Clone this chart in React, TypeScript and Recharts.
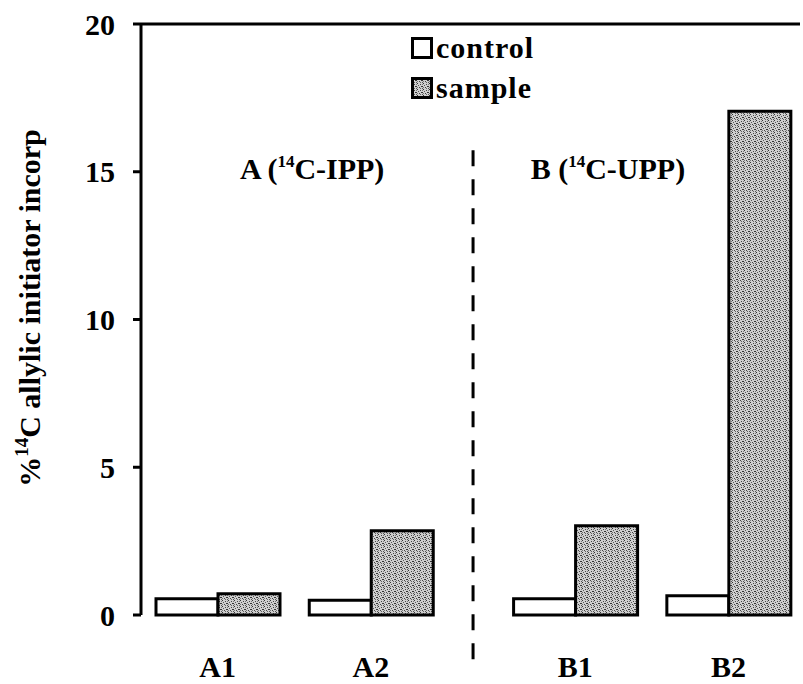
import { BarChart, Bar, XAxis, YAxis, ReferenceLine, ReferenceDot } from "recharts";

const categories = ["A1", "A2", "B1", "B2"];
const controlValues = [0.55, 0.5, 0.55, 0.65];
const sampleValues = [0.72, 2.85, 3.02, 17.05];
// x slot of each pair; the A and B sets sit either side of a wider gap
const slots = [1, 4, 8, 11];
// boundaries between pairs, marked with ticks on the x axis
const boundaries = [-0.5, 2.5, 6, 9.5];
const yTicks = [0, 5, 10, 15, 20];
const setNames = ["A", "B"];
const setSubstrates = ["C-IPP)", "C-UPP)"];
const seriesNames = ["control", "sample"];

const data = categories.map((name, i) => ({
  name,
  slot: slots[i],
  control: controlValues[i],
  sample: sampleValues[i],
}));

const FONT = "'Liberation Serif', 'Times New Roman', serif";
const X_DOMAIN: [number, number] = [-0.5, 12.4];
const SERIES_FILL = ["#fff", "url(#speckle)"];

function setTitle(i: number) {
  return (props: any) => {
    const vb = props.viewBox || {};
    const x = (vb.x ?? 0) + (vb.width ?? 0) / 2;
    const y = (vb.y ?? 0) + (vb.height ?? 0) / 2;
    return (
      <text
        x={x}
        y={y}
        textAnchor="middle"
        fontFamily={FONT}
        fontWeight="bold"
        fontSize={30}
        fill="#000"
      >
        {setNames[i]} (
        <tspan fontSize={17} dy={-12}>14</tspan>
        <tspan dy={12}>{setSubstrates[i]}</tspan>
      </text>
    );
  };
}

function LegendBox() {
  return (
    <div
      style={{
        position: "absolute",
        left: 411,
        top: 28,
        fontFamily: FONT,
        fontWeight: "bold",
        fontSize: 30,
        letterSpacing: 1,
        lineHeight: "40px",
      }}
    >
      {seriesNames.map((name, i) => (
        <div key={name} style={{ display: "flex", alignItems: "center", gap: 3, height: 40 }}>
          <svg width={22} height={22}>
            <rect x={1.5} y={1.5} width={19} height={19} fill={SERIES_FILL[i]} stroke="#000" strokeWidth={3} />
          </svg>
          <span>{name}</span>
        </div>
      ))}
    </div>
  );
}

function YLabel() {
  return (
    <text
      transform="translate(40, 308) rotate(-90)"
      textAnchor="middle"
      fontFamily={FONT}
      fontWeight="bold"
      fontSize={30}
      fill="#000"
    >
      %<tspan fontSize={19} dy={-12}>14</tspan>
      <tspan dy={12}>C allylic initiator incorp</tspan>
    </text>
  );
}

export default function App() {
  return (
    <div style={{ position: "absolute", left: 0, top: 0, width: 803, height: 684, background: "#fff" }}>
      <svg width={0} height={0} style={{ position: "absolute" }}>
        <defs>
          <pattern id="speckle" width={6} height={6} patternUnits="userSpaceOnUse">
            <rect width={6} height={6} fill="#cfcfcf" />
            <rect x={0} y={0} width={1} height={1} fill="#333" />
            <rect x={3} y={1} width={1} height={1} fill="#444" />
            <rect x={1} y={2} width={1} height={1} fill="#555" />
            <rect x={4} y={3} width={2} height={1} fill="#333" />
            <rect x={2} y={4} width={1} height={1} fill="#444" />
            <rect x={5} y={5} width={1} height={1} fill="#555" />
            <rect x={0} y={4} width={1} height={1} fill="#777" />
            <rect x={3} y={5} width={1} height={1} fill="#666" />
            <rect x={5} y={1} width={1} height={1} fill="#777" />
          </pattern>
        </defs>
      </svg>
      <BarChart
        width={803}
        height={684}
        data={data}
        barSize={62}
        barGap={0}
        margin={{ top: 24, right: 3, bottom: 0, left: 0 }}
      >
        <XAxis
          xAxisId="frame"
          type="number"
          dataKey="slot"
          domain={X_DOMAIN}
          ticks={boundaries}
          tick={false}
          tickSize={12}
          height={0}
          allowDataOverflow
          axisLine={{ stroke: "#000", strokeWidth: 3 }}
          tickLine={{ stroke: "#000", strokeWidth: 3 }}
        />
        <XAxis
          xAxisId="names"
          type="number"
          dataKey="slot"
          domain={X_DOMAIN}
          ticks={slots}
          tickFormatter={(v: number) => categories[slots.indexOf(v)] ?? ""}
          axisLine={false}
          tickLine={false}
          tickSize={0}
          tickMargin={41}
          height={69}
          allowDataOverflow
          tick={{ fontFamily: FONT, fontWeight: "bold", fontSize: 30, fill: "#000" }}
        />
        <YAxis
          domain={[0, 20]}
          ticks={yTicks}
          width={141}
          tickSize={8}
          tickMargin={18}
          axisLine={{ stroke: "#000", strokeWidth: 3 }}
          tickLine={{ stroke: "#000", strokeWidth: 3 }}
          tick={{ fontFamily: FONT, fontWeight: "bold", fontSize: 30, fill: "#000" }}
          label={<YLabel />}
        />
        <ReferenceLine xAxisId="frame" y={20} stroke="#000" strokeWidth={3} />
        <ReferenceLine
          xAxisId="frame"
          segment={[
            { x: 6, y: -1.5 },
            { x: 6, y: 15.85 },
          ]}
          ifOverflow="visible"
          stroke="#000"
          strokeWidth={3}
          strokeDasharray="16 13"
        />
        <Bar
          xAxisId="frame"
          dataKey="control"
          fill={SERIES_FILL[0]}
          stroke="#000"
          strokeWidth={3}
          isAnimationActive={false}
        />
        <Bar
          xAxisId="frame"
          dataKey="sample"
          fill={SERIES_FILL[1]}
          stroke="#000"
          strokeWidth={3}
          isAnimationActive={false}
        />
        <ReferenceDot xAxisId="frame" x={2.85} y={14.75} r={0} fill="none" stroke="none" label={{ content: setTitle(0) }} />
        <ReferenceDot xAxisId="frame" x={8.64} y={14.75} r={0} fill="none" stroke="none" label={{ content: setTitle(1) }} />
      </BarChart>
      <LegendBox />
    </div>
  );
}
